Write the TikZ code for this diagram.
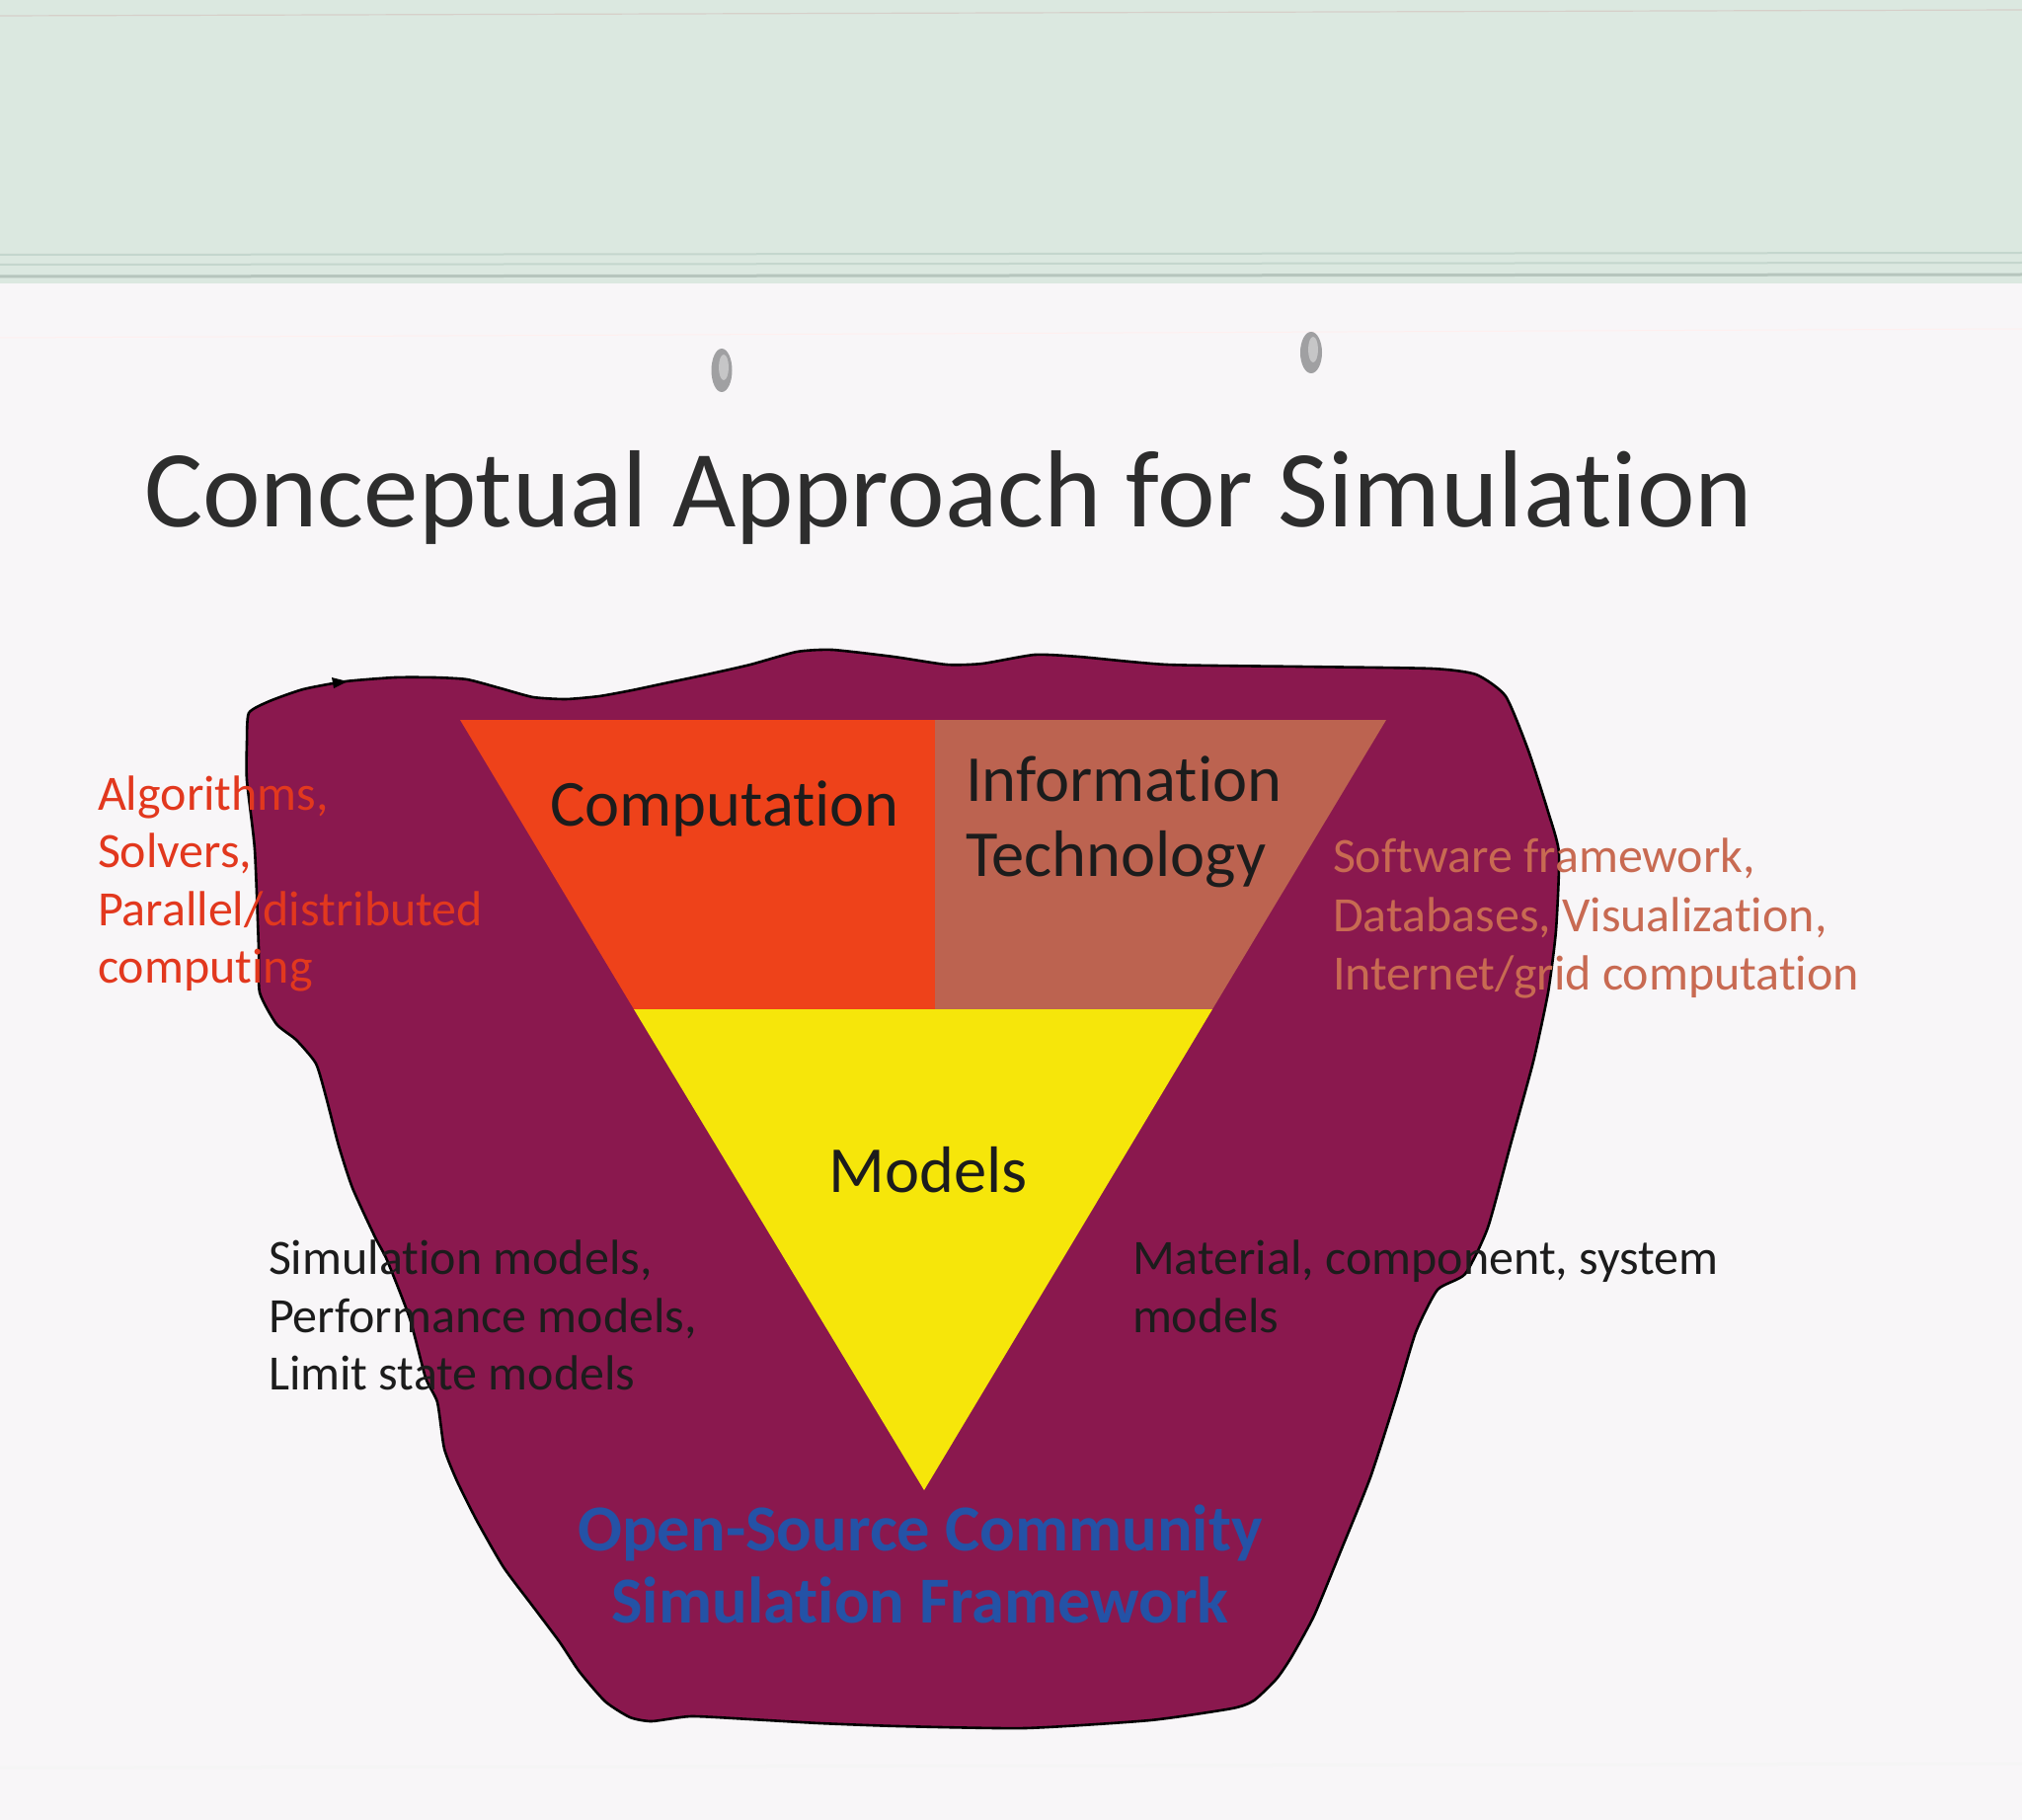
\documentclass[tikz,border=0pt]{standalone}
\usepackage{fontspec}
\setmainfont{Carlito}[Ligatures={NoCommon,NoContextual}]
\definecolor{bandgreen}{RGB}{219,232,224}
\definecolor{bandline}{RGB}{196,214,205}
\definecolor{paper}{RGB}{248,246,248}
\definecolor{blobpurple}{RGB}{138,24,78}
\definecolor{comporange}{RGB}{238,66,26}
\definecolor{itbrown}{RGB}{188,99,80}
\definecolor{modyellow}{RGB}{246,230,10}
\definecolor{algred}{RGB}{226,56,30}
\definecolor{swsalmon}{RGB}{200,106,82}
\definecolor{osblue}{RGB}{36,82,166}
\definecolor{titlegray}{RGB}{45,45,45}
\definecolor{inkblack}{RGB}{28,28,28}
\definecolor{holegray}{RGB}{160,160,162}
\begin{document}
\begin{tikzpicture}[x=1pt,y=-1pt,
  lbl/.style={inner sep=0pt, outer sep=0pt},
  titletxt/.style={lbl, font=\fontsize{111}{133}\selectfont, text=titlegray},
  bigtxt/.style={lbl, font=\fontsize{66.5}{80}\selectfont, text=inkblack},
  smalltxt/.style={lbl, font=\fontsize{50}{60}\selectfont, anchor=base west},
  redtxt/.style={smalltxt, text=algred},
  salmontxt/.style={smalltxt, text=swsalmon},
  blacktxt/.style={smalltxt, text=inkblack},
  bluetxt/.style={lbl, font=\fontsize{66.5}{80}\bfseries\selectfont, text=osblue, anchor=base},
  blob/.style={fill=blobpurple, draw=black, line width=2.6pt, line join=round}
]
\useasboundingbox (0,0) rectangle (2048,1843);
% paper and scanner band
\fill[paper] (0,0) rectangle (2048,1843);
\fill[bandgreen] (0,0) rectangle (2048,287);
\draw[bandline!70!pink, line width=1.2pt] (0,16) -- (2048,10);
\draw[bandline, line width=2pt] (0,258) -- (2048,256);
\draw[bandline, line width=2pt] (0,268) -- (2048,266);
\draw[bandline!80!gray, line width=3pt] (0,280) -- (2048,278);
\draw[pink!25, line width=1pt] (0,342) -- (2048,333);
\draw[gray!8, line width=3pt] (0,1790) -- (2048,1786);
% punch holes
\fill[holegray] (731,375) ellipse [x radius=10.5pt, y radius=22pt];
\fill[holegray] (1328,357) ellipse [x radius=11pt, y radius=21pt];
\fill[holegray!60] (733,372) ellipse [x radius=5pt, y radius=13pt];
\fill[holegray!60] (1330,354) ellipse [x radius=5pt, y radius=13pt];
% title
\node[titletxt, anchor=base west] (title) at (146,533) {Conceptual Approach for Simulation};
% purple blob
\draw[blob] plot[smooth cycle, tension=0.35] coordinates {
 (250,790) (250,753) (252,722) (273,710) (307,698) (350,690) (400,686) (440,686)
 (473,688) (507,697) (540,706) (573,708) (607,705) (640,699) (673,692) (716,683)
 (760,673) (807,660) (843,658) (905,665) (959,673) (995,672) (1048,663) (1093,665)
 (1182,673) (1316,675) (1450,677) (1495,683) (1525,705) (1548,760) (1568,822)
 (1579,864) (1576,942) (1568,1005) (1553,1075) (1530,1159) (1507,1243) (1484,1290)
 (1456,1306) (1434,1349) (1415,1412) (1388,1496) (1357,1573) (1331,1636)
 (1308,1678) (1293,1700) (1270,1722) (1248,1730) (1165,1742) (1038,1750)
 (910,1748) (830,1745) (760,1741) (700,1738) (660,1743) (638,1739) (613,1723)
 (587,1693) (567,1663) (540,1627) (510,1587) (483,1540) (463,1500) (450,1467)
 (443,1420) (431,1395) (415,1335) (392,1276) (380,1253) (357,1203) (343,1160)
 (330,1110) (320,1077) (300,1053) (280,1037) (263,1005) (262,960) (258,860)};
% small tick mark on the outline
\fill[black] (336,686) -- (352,690) -- (338,697) -- cycle;
% inverted triangle
\coordinate (tl) at (466,729);
\coordinate (tm) at (947,729);
\coordinate (tr) at (1404,729);
\coordinate (ml) at (642,1022);
\coordinate (mm) at (947,1022);
\coordinate (mr) at (1228,1022);
\coordinate (bt) at (936,1509);
\fill[comporange] (tl) -- (tm) -- (mm) -- (ml) -- cycle;
\fill[itbrown] (tm) -- (tr) -- (mr) -- (mm) -- cycle;
\fill[modyellow] (ml) -- (mr) -- (bt) -- cycle;
% labels in triangle
\node[bigtxt, anchor=base] (comp) at (734,836) {Computation};
\node[bigtxt, anchor=base west] (info1) at (978,811) {Information};
\node[bigtxt, anchor=base west] (info2) at (978,887) {Technology};
\node[bigtxt, anchor=base] (models) at (940,1207) {Models};
% left red text
\node[redtxt] (alg1) at (99,820) {Algorithms,};
\node[redtxt] (alg2) at (99,878) {Solvers,};
\node[redtxt] (alg3) at (99,937) {Parallel/distributed};
\node[redtxt] (alg4) at (99,995) {computing};
% right salmon text
\node[salmontxt] (sw1) at (1350,883) {Software framework,};
\node[salmontxt] (sw2) at (1350,943) {Databases, Visualization,};
\node[salmontxt] (sw3) at (1350,1002) {Internet/grid computation};
% black model texts
\node[blacktxt] (sim1) at (272,1290) {Simulation models,};
\node[blacktxt] (sim2) at (272,1349) {Performance models,};
\node[blacktxt] (sim3) at (272,1407) {Limit state models};
\node[blacktxt] (mat1) at (1147,1290) {Material, component, system};
\node[blacktxt] (mat2) at (1147,1349) {models};
% blue framework text
\node[bluetxt] (os1) at (932,1570) {Open-Source Community};
\node[bluetxt] (os2) at (932,1643) {Simulation Framework};
\end{tikzpicture}
\end{document}
